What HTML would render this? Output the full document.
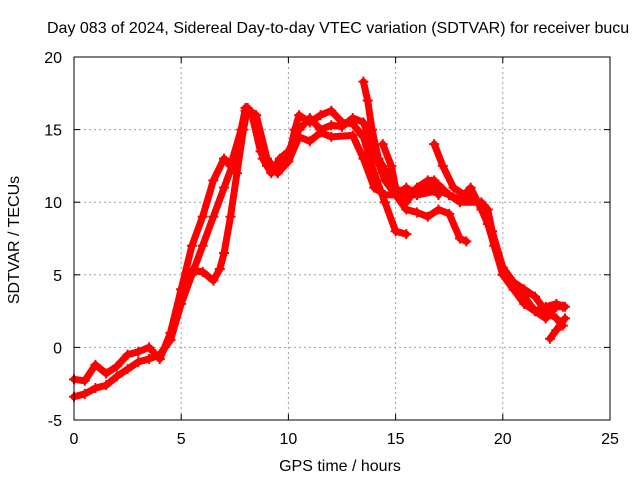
<!DOCTYPE html>
<html><head><meta charset="utf-8">
<style>
body{margin:0;background:#fff;}
svg{display:block;font-family:"Liberation Sans",sans-serif;}
</style></head>
<body>
<svg id="chart" width="640" height="480">
<text x="47" y="33" font-size="16" fill="#000">Day 083 of 2024, Sidereal Day-to-day VTEC variation (SDTVAR) for receiver bucu</text>
<g id="grid"></g>
<g id="axes"></g>
<g id="series"></g>
<rect x="74" y="57" width="536" height="363" fill="none" stroke="#000" stroke-width="1"/>
<text x="340" y="471" font-size="16" text-anchor="middle">GPS time / hours</text>
<text x="19" y="240" font-size="16" text-anchor="middle" transform="rotate(-90 19 240)">SDTVAR / TECUs</text>
</svg>
<script>
const xTicks=[0,5,10,15,20,25];
const yTicks=[-5,0,5,10,15,20];
const trackA=[[0,-3.4],[0.5,-3.2],[1,-2.8],[1.5,-2.6],[2,-2],[2.5,-1.5],[3,-1],[3.5,-0.8],[4,-0.5],[4.5,0.5],[5,3],[5.5,5],[6,7],[6.5,9],[7,11],[7.5,13],[8,16.3],[8.3,16],[8.7,13.5],[9,12.5],[9.5,12],[10,13],[10.3,15],[10.5,16],[11,15.5],[11.5,16],[12,16.3],[12.5,15.5],[13,15.4],[13.5,14.5],[14,12],[14.5,10],[15,8],[15.5,7.8]];
const trackB=[[0,-2.2],[0.5,-2.3],[1,-1.2],[1.5,-1.8],[2,-1.3],[2.5,-0.5],[3,-0.3],[3.5,0],[4,-0.8],[4.5,1],[5,4],[5.5,7],[6,9],[6.5,11.5],[7,13],[7.3,12.5],[7.8,15],[8,16.5],[8.5,16],[9,13],[9.5,12],[10,12.8],[10.5,14.5],[11,14.2],[11.5,14.8],[12,14.5],[13,14.6],[13.5,13],[14,11],[14.5,10.5],[15,10.5],[15.5,11],[16,10.5],[16.5,11],[17,11.2],[17.5,10.5],[18,10],[19,10],[19.3,9.5],[19.5,8],[20,5],[20.5,4],[21,3.5],[21.5,2.5],[22,2],[22.5,2.8],[22.8,2.8]];
const trackC=[[4.5,1],[5,4],[5.5,5.3],[6,5.2],[6.5,4.6],[6.8,5.4],[7,6.5],[7.3,9],[7.6,12],[7.9,15],[8.1,16.5]];
const trackD=[[8.8,13],[9.2,12],[9.6,13],[10,13.5],[10.5,15],[11,15.8],[11.5,15],[12,15.3],[12.5,15.2],[13,15.8],[13.5,15.5],[14,13.5],[14.5,11.5],[15,10.5],[16,10.5],[17,10.8],[17.5,10.5],[18,10.2],[18.5,10.3],[19,9.8],[19.5,8],[20,5.5],[20.5,4.5],[21,4],[21.5,3.5],[22,2.5],[22.5,2],[22.8,1.5]];
const trackE=[[13.5,18.3],[13.7,17],[13.9,15],[14.2,13],[14.6,12],[15,10.5],[15.5,9.5],[16,9.3],[16.5,9],[17,9.5],[17.5,9.2],[18,7.5],[18.3,7.3]];
const trackF=[[14.4,14],[14.8,12.5],[15,11],[15.5,10],[16,11],[16.5,11.5],[16.8,11.5],[17,10.5]];
const trackG=[[16.8,14],[17.2,12.5],[17.7,11],[18.2,10.5],[18.5,11],[19,9.5],[19.3,8.5],[19.6,7],[20,5],[20.5,4],[21,3],[21.5,2.5],[22,2.8],[22.5,3],[22.9,2.8]];
const trackH=[[22.2,0.6],[22.5,1.2],[22.9,2]];
const tracks=[trackA,trackB,trackC,trackD,trackE,trackF,trackG,trackH];

const NS="http://www.w3.org/2000/svg";
const X0=74,X1=610,Y0=420,Y1=57;
function sx(h){return X0+(h-0)/(25-0)*(X1-X0);}
function sy(v){return Y0-(v+5)/(25)*(Y0-Y1);}
function mk(tag,attrs,parent){const e=document.createElementNS(NS,tag);for(const k in attrs)e.setAttribute(k,attrs[k]);parent.appendChild(e);return e;}
const grid=document.getElementById('grid'),axes=document.getElementById('axes'),series=document.getElementById('series');
xTicks.forEach(t=>{
  const x=sx(t);
  if(t>0&&t<25){const l=mk('line',{x1:x,y1:Y1,x2:x,y2:Y0,stroke:'#a0a0a0','stroke-dasharray':'2,3'},grid);
  
  }
  mk('line',{x1:x,y1:Y0,x2:x,y2:Y0-6,stroke:'#000'},axes);
  mk('line',{x1:x,y1:Y1,x2:x,y2:Y1+6,stroke:'#000'},axes);
  const tx=mk('text',{x:x,y:Y0+24,'font-size':16,'text-anchor':'middle'},axes);
  tx.textContent=t;
  
  
});
yTicks.forEach(t=>{
  const y=sy(t);
  if(t>-5&&t<20){const l=mk('line',{x1:X0,y1:y,x2:X1,y2:y,stroke:'#a0a0a0','stroke-dasharray':'2,3'},grid);
  
  }
  mk('line',{x1:X0,y1:y,x2:X0+6,y2:y,stroke:'#000'},axes);
  mk('line',{x1:X1,y1:y,x2:X1-6,y2:y,stroke:'#000'},axes);
  const tx=mk('text',{x:X0-12,y:y+6,'font-size':16,'text-anchor':'end'},axes);
  tx.textContent=t;
  
  
});
tracks.forEach((tr,i)=>{
  const d=tr.map((p,j)=>(j?'L':'M')+sx(p[0]).toFixed(1)+' '+sy(p[1]).toFixed(1)).join(' ');
  const path=mk('path',{d:d,fill:'none',stroke:'#ff0000','stroke-width':7,'stroke-linejoin':'round','stroke-linecap':'round'},series);
  
  
  tr.forEach(p=>{
    const x=sx(p[0]),y=sy(p[1]);
    const m=mk('path',{d:`M${x-5} ${y}H${x+5}M${x} ${y-5}V${y+5}`,stroke:'#ff0000','stroke-width':2},series);
    
    
  });
});
</script>
</body></html>
